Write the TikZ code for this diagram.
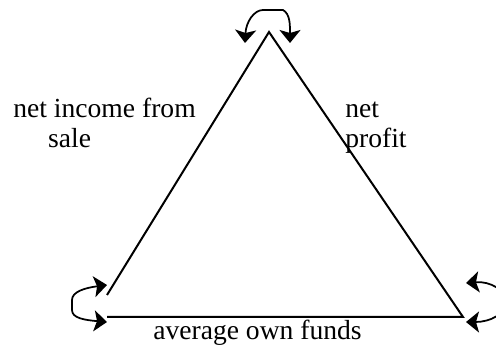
\documentclass[tikz,border=0pt]{standalone}
\usepackage{fontspec}
\setmainfont{Liberation Serif}
\usetikzlibrary{arrows.meta}

\begin{document}
\begin{tikzpicture}[
  x=0.2mm, y=0.2mm,
  side/.style={line width=0.4mm},
  turn/.style={{Stealth[length=2.6mm,width=4.2mm,inset=0.6mm]}-{Stealth[length=2.6mm,width=4.2mm,inset=0.6mm]}, line width=0.35mm},
  term/.style={font=\fontsize{15.7}{17.6}\selectfont, inner sep=0pt, align=left}
]
  % Frame
  \useasboundingbox (0,0) rectangle (496,350);
  \clip (0,0) rectangle (496,350);

  % Corners
  \coordinate (apex) at (269,318);
  \coordinate (leftend) at (107,55);
  \coordinate (baseleft) at (107,33);
  \coordinate (baseright) at (463,33);

  % Sides
  \draw[side] (leftend) -- (apex) -- (baseright) -- (baseleft);

  % Loop ends
  \coordinate (topA) at (245,307);
  \coordinate (topB) at (290,307);
  \coordinate (leftA) at (107,65);
  \coordinate (leftB) at (107,28);
  \coordinate (rightA) at (466,67);
  \coordinate (rightB) at (466,28);

  % Loops
  \draw[turn] (topA) .. controls (246,328) and (254,340) .. (263,340)
    -- (283,340) .. controls (290,336) and (290,326) .. (topB);
  \draw[turn] (leftA) .. controls (84,62) and (72,58) .. (72,50)
    -- (72,40) .. controls (72,32) and (84,30) .. (leftB);
  \draw[turn] (rightA) .. controls (490,69) and (506,60) .. (506,48)
    .. controls (506,36) and (490,28) .. (rightB);

  % Labels
  \node[term, anchor=base west] (sale) at (13,202) {net income from\\\hspace*{1.26em}sale};
  \node[term, anchor=base west] (profit) at (345,202) {net\\profit};
  \node[term, anchor=base] (funds) at (257.5,10) {average own funds};
\end{tikzpicture}
\end{document}
